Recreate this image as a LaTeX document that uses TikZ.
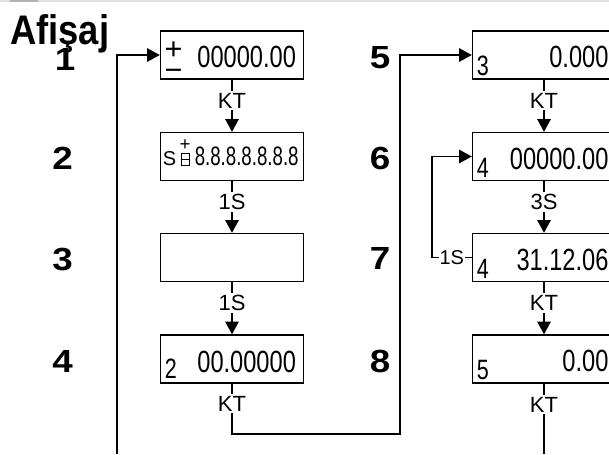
\documentclass[tikz,border=0pt]{standalone}
\usepackage{fontspec}
\setmainfont{Liberation Sans}
\newfontfamily\lcdfont[FakeStretch=0.77]{Liberation Sans}
\newfontfamily\lcdnarrow[FakeStretch=0.7]{Liberation Sans}
\newfontfamily\numfont[FakeStretch=1.15]{Liberation Sans}
\newfontfamily\headfont[FakeStretch=0.88]{Liberation Sans}
\usetikzlibrary{arrows.meta}

\begin{document}
\begin{tikzpicture}[x=0.75pt, y=-0.75pt,
  disp/.style={draw, line width=1pt, minimum width=107.25pt, minimum height=36pt, inner sep=0pt},
  digits/.style={font=\lcdfont\fontsize{23}{23}\selectfont, inner sep=0pt, anchor=base east},
  sdigits/.style={font=\lcdnarrow\fontsize{20}{20}\selectfont, inner sep=0pt, anchor=base east},
  idx/.style={font=\lcdfont\fontsize{21}{21}\selectfont, inner sep=0pt, anchor=base west},
  pm/.style={font=\fontsize{23}{15.4}\selectfont, inner sep=0pt},
  rown/.style={font=\numfont\bfseries\fontsize{24}{24}\selectfont, inner sep=0pt},
  headn/.style={font=\headfont\bfseries\fontsize{31}{31}\selectfont, inner sep=0pt, anchor=base west},
  lbl/.style={font=\fontsize{16.5}{16.5}\selectfont, fill=white, inner sep=1.5pt},
  slbl/.style={font=\fontsize{15}{15}\selectfont, fill=white, inner sep=0.6pt},
  flow/.style={line width=1.1pt, -{Triangle[length=9.5pt, width=10pt]}},
  wire/.style={line width=1.1pt}
]
  \useasboundingbox (0,0) rectangle (609,454);
  \clip (0,0) rectangle (609,454);
  \fill[gray!25] (0,0) rectangle (609,2); \fill[gray!60] (10,0) rectangle (38,2);
  \node[headn] (ttl) at (10,44) {Afişaj};
  \node[rown] (r1) at (65,59) {1};   \node[rown] (r5) at (380,58) {5};
  \node[rown] (r2) at (62.5,158) {2}; \node[rown] (r6) at (380,158) {6};
  \node[rown] (r3) at (62.5,259) {3}; \node[rown] (r7) at (380,258) {7};
  \node[rown] (r4) at (62.5,361) {4}; \node[rown] (r8) at (380,361) {8};
  \node[disp] (b1) at (232,55)    {};  \node[disp] (b5) at (544,55)    {};
  \node[disp] (b2) at (232,156.5) {};  \node[disp] (b6) at (544,156.5) {};
  \node[disp] (b3) at (232,257.5) {};  \node[disp] (b7) at (544,257.5) {};
  \node[disp] (b4) at (232,359)   {};  \node[disp] (b8) at (544,359)   {};
  \node[pm] (pm1) at (173.5,64) {\begin{tabular}{@{}c@{}}+\\−\end{tabular}};
  \node[digits] (t1) at ([xshift=-6pt, yshift=9pt]b1.south east) {00000.00};
  \node[font=\fontsize{15}{15}\selectfont, inner sep=0pt, anchor=base west] (s2) at (162.5,165) {S};
  \node[font=\fontsize{14}{14}\selectfont, inner sep=0pt] (p2) at (185,145.5) {+};
  \draw[line width=0.7pt] (181,153) rectangle (189,165) (181,159) -- (189,159);
  \node[sdigits] (t2) at ([xshift=-4pt, yshift=12pt]b2.south east) {8.8.8.8.8.8.8};
  \node[idx] (i4) at ([xshift=3.5pt, yshift=3.75pt]b4.south west) {2};
  \node[digits] (t4) at ([xshift=-6pt, yshift=8.5pt]b4.south east) {00.00000};
  \node[idx] (i5) at ([xshift=3.5pt, yshift=3pt]b5.south west) {3};
  \node[digits] (t5) at ([xshift=-5.6pt, yshift=9pt]b5.south east) {0.000};
  \node[idx] (i6) at ([xshift=3.5pt, yshift=3pt]b6.south west) {4};
  \node[digits] (t6) at ([xshift=-5.6pt, yshift=9pt]b6.south east) {00000.00};
  \node[idx] (i7) at ([xshift=3.5pt, yshift=3pt]b7.south west) {4};
  \node[digits] (t7) at ([xshift=-5.6pt, yshift=9pt]b7.south east) {31.12.06};
  \node[idx] (i8) at ([xshift=3.5pt, yshift=3pt]b8.south west) {5};
  \node[digits] (t8) at ([xshift=-5.6pt, yshift=9pt]b8.south east) {0.00};
  \coordinate (lb) at (117,454);
  \coordinate (c1) at (232,434); \coordinate (c2) at (400,434);
  \coordinate (e8) at (544,454);
  \draw[flow] (lb) |- (b1.west);
  \draw[flow] (b1) -- node[lbl, pos=0.4] {KT} (b2);
  \draw[flow] (b2) -- node[lbl, pos=0.4] {1S} (b3);
  \draw[flow] (b3) -- node[lbl, pos=0.4] {1S} (b4);
  \draw[flow] (b4) -- node[lbl, pos=0.4] {KT} (c1) -- (c2) |- (b5.west);
  \draw[flow] (b5) -- node[lbl, pos=0.4] {KT} (b6);
  \draw[flow] (b6) -- node[lbl, pos=0.4] {3S} (b7);
  \draw[flow] (b7) -- node[lbl, pos=0.4] {KT} (b8);
  \draw[flow] (b7.west) -- node[slbl] {1S} ++(-40,0) |- (b6.west);
  \draw[wire] (b8) -- node[lbl, pos=0.3] {KT} (e8);
\end{tikzpicture}
\end{document}
